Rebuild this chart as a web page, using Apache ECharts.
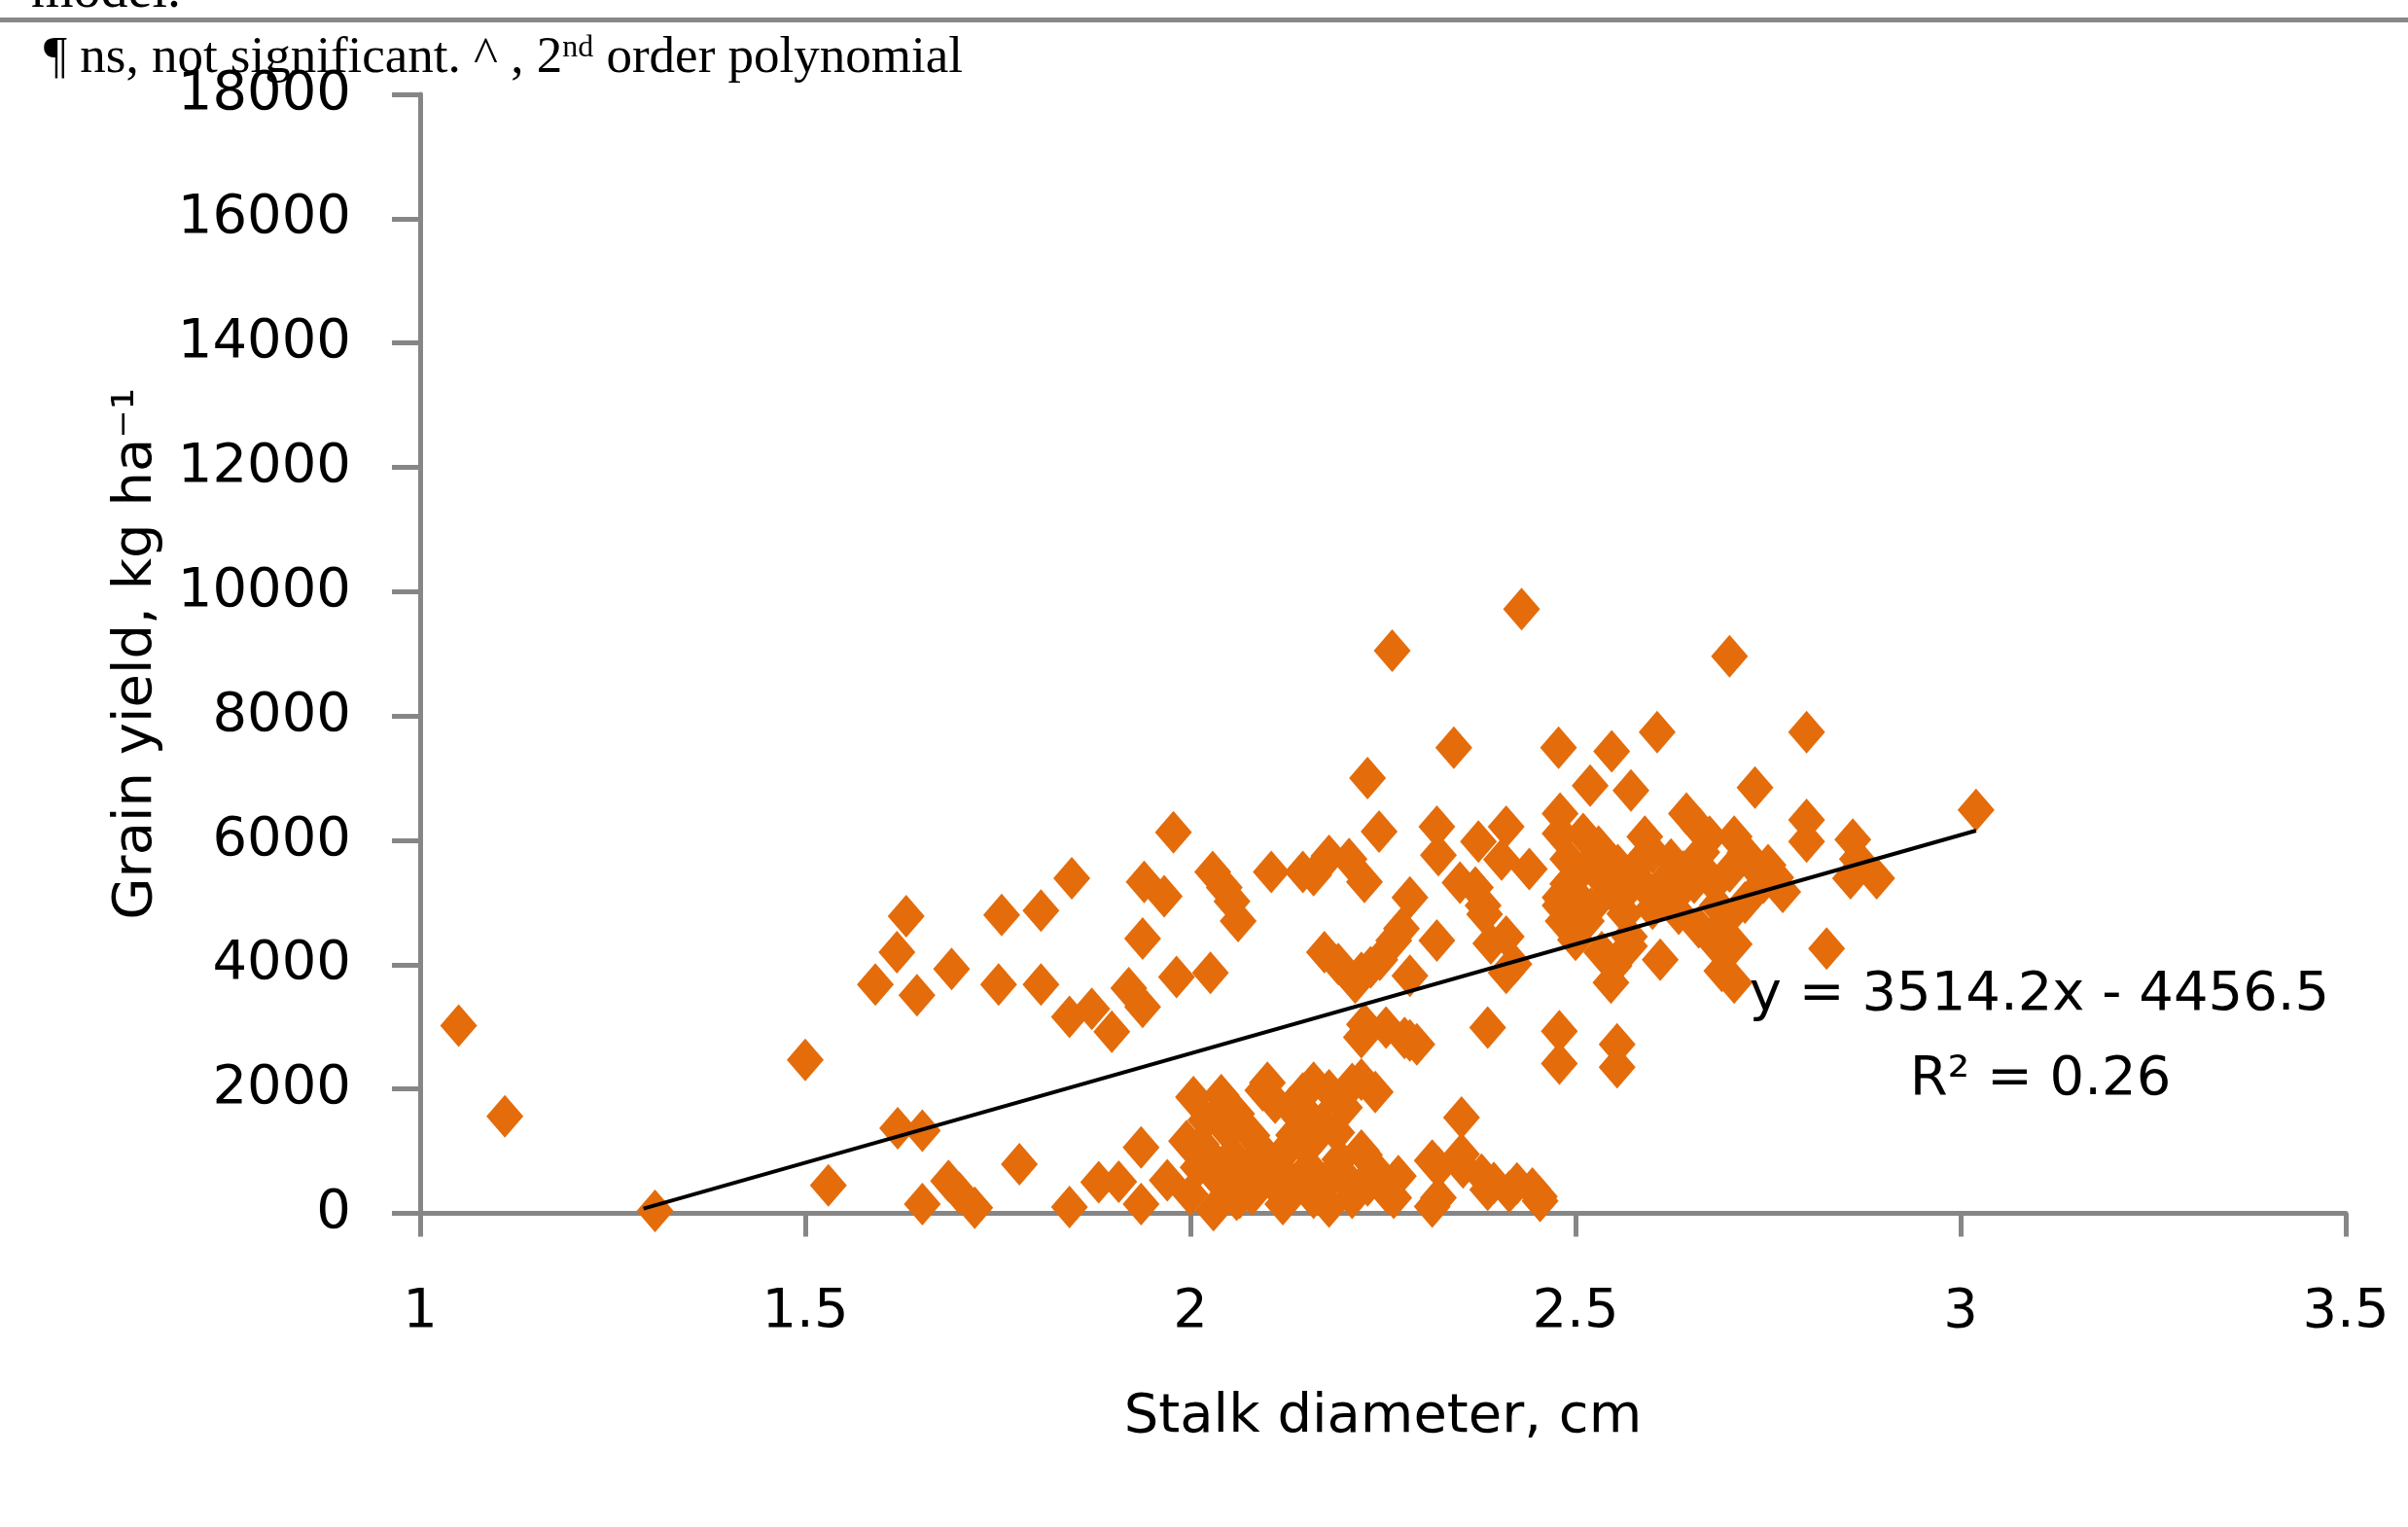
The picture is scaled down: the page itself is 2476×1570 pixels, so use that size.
<!DOCTYPE html>
<html>
<head>
<meta charset="utf-8">
<script src="https://cdn.jsdelivr.net/npm/echarts@6/dist/echarts.min.js"></script>
<style>
  html, body { margin: 0; padding: 0; background: #ffffff; }
  #chart { width: 2476px; height: 1570px; }
</style>
</head>
<body>
<div id="chart"></div>
<script>
// ---- data ----
const stalkDiameter = [
  1.05, 1.11, 1.305, 1.50, 1.53, 1.591, 1.619, 1.631, 1.645, 1.62,
  1.652, 1.652, 1.69, 1.686, 1.70, 1.72, 1.755, 1.751, 1.806, 1.806,
  1.778, 1.846, 1.843, 1.872, 1.898, 1.843, 1.881, 1.907, 1.936, 1.936,
  1.938, 1.94, 1.966, 1.92, 1.978, 1.982, 1.938, 2.026, 1.97, 1.995,
  2.004, 2.02, 2.04, 2.01, 2.03, 2.06, 2.03, 2.044, 2.014, 2.054,
  2.064, 2.084, 2.10, 2.094, 2.114, 2.13, 2.146, 2.134, 2.154, 2.164,
  2.134, 2.174, 2.18, 2.194, 2.10, 2.094, 2.11, 2.146, 2.16, 2.154,
  2.18, 2.21, 2.222, 2.222, 2.226, 2.256, 2.264, 2.21, 2.07, 2.12,
  2.20, 2.029, 2.044, 2.054, 2.062, 2.105, 2.146, 2.16, 2.18, 2.206,
  2.226, 2.23, 2.262, 2.245, 2.174, 2.192, 2.222, 2.234, 2.264, 2.285,
  2.285, 2.226, 2.254, 2.278, 2.294, 2.222, 2.285, 2.246, 2.274, 2.214,
  2.32, 2.322, 2.342, 2.32, 2.352, 2.322, 2.314, 2.322, 2.314, 2.352,
  2.354, 2.374, 2.37, 2.38, 2.382, 2.386, 2.39, 2.41, 2.43, 2.41,
  2.42, 2.41, 2.394, 2.386, 2.414, 2.424, 2.444, 2.453, 2.44, 2.404,
  2.35, 2.378, 2.454, 2.478, 2.48, 2.48, 2.48, 2.48, 2.479, 2.479,
  2.484, 2.519, 2.547, 2.524, 2.546, 2.546, 2.554, 2.554, 2.504, 2.514,
  2.564, 2.574, 2.534, 2.572, 2.606, 2.59, 2.61, 2.57, 2.594, 2.624,
  2.55, 2.50, 2.53, 2.555, 2.49, 2.60, 2.644, 2.654, 2.674, 2.684,
  2.70, 2.706, 2.706, 2.706, 2.685, 2.69, 2.733, 2.724, 2.744, 2.769,
  2.80, 2.80, 2.80, 2.826, 2.86, 2.857, 2.891, 2.866, 3.02, 2.694,
  2.664, 2.634, 2.64, 2.72, 2.75, 2.66,
  2.00, 2.02, 2.05, 2.08, 2.12, 2.15, 2.17, 2.19, 2.24, 2.08,
  2.16, 2.04, 2.20, 2.24, 2.13, 2.06, 2.11, 2.19, 2.23, 2.27,
  2.49, 2.51, 2.54, 2.56, 2.58, 2.62, 2.63, 2.66, 2.68, 2.70,
  2.72, 2.74, 2.76, 2.52, 2.60, 2.66, 2.57, 2.50
];
const grainYield = [
  3020, 1560, 40, 2470, 450, 3680, 4200, 4780, 3510, 1370,
  1330, 150, 3930, 520, 330, 90, 4800, 3680, 4870, 3680,
  790, 5390, 3160, 3290, 2920, 100, 500, 510, 150, 1060,
  4420, 5330, 5100, 3620, 6130, 3800, 3320, 3870, 530, 1160,
  1870, 1500, 1650, 740, 630, 220, 50, 490, 1110, 940,
  250, 490, 900, 990, 740, 1110, 530, 370, 740, 1240,
  1260, 490, 110, 870, 2100, 1980, 1780, 1930, 2100, 1560,
  1980, 2080, 2150, 1010, 940, 330, 250, 250, 690, 150,
  600, 5490, 5240, 5020, 4700, 5490, 5490, 5440, 5750, 5700,
  5330, 7000, 9050, 6140, 4200, 4010, 3870, 3960, 4390, 3820,
  5080, 3040, 2990, 2820, 2720, 2830, 2780, 4080, 4580, 3710,
  6220, 5760, 7490, 4390, 1540, 740, 850, 250, 110, 950,
  740, 5980, 5240, 4950, 4810, 2990, 4340, 6220, 9720, 3870,
  4010, 4450, 490, 380, 350, 480, 400, 270, 5540, 5690,
  5320, 620, 200, 7490, 6430, 6110, 5080, 4950, 2930, 2410,
  4700, 6880, 7430, 5690, 5190, 3710, 2720, 2350, 5070, 4700,
  4820, 5440, 4200, 6800, 7740, 6060, 4080, 4450, 5190, 5690,
  3980, 5400, 5900, 5600, 5300, 5800, 6430, 5320, 6060, 4950,
  8960, 6060, 4330, 3710, 4290, 3900, 6850, 5690, 5320, 5170,
  7740, 6330, 5980, 4260, 6010, 5390, 5390, 5700, 6490, 4700,
  5810, 4820, 5500, 5000, 5600, 6200,
  300, 1000, 1300, 1250, 950, 1050, 1450, 650, 700, 300,
  250, 1900, 1700, 1950, 1700, 1600, 450, 1300, 450, 600,
  5700, 6100, 5300, 5100, 5600, 5400, 5100, 5600, 5300, 5500,
  5800, 5500, 5400, 4900, 4900, 4600, 4300, 4400
];
// linear trendline reported on the chart
const trendSlope = 3514.2;
const trendIntercept = -4456.5;
const trendRange = [1.29, 3.02];
const equationText = 'y = 3514.2x - 4456.5';
const r2Text = 'R\u00b2 = 0.26';
const xTitle = 'Stalk diameter, cm';
const yTitle = 'Grain yield, kg ha\u207b\u00b9';

// ---- build ----
const points = stalkDiameter.map((x, i) => [x, grainYield[i]]);
const trendPoints = trendRange.map(x => [x, trendSlope * x + trendIntercept]);

const FONT = 'DejaVu Sans';
const AXIS_GRAY = '#868686';

const chart = echarts.init(document.getElementById('chart'), null, { renderer: 'canvas' });
chart.setOption({
  animation: false,
  backgroundColor: '#ffffff',
  grid: { left: 432, right: 64, top: 97, bottom: 322.5, containLabel: false },
  xAxis: {
    type: 'value', min: 1, max: 3.5, interval: 0.5,
    name: xTitle, nameLocation: 'middle', nameGap: 182,
    nameTextStyle: { fontFamily: FONT, fontSize: 56, color: '#000' },
    axisLine: { show: true, onZero: false, lineStyle: { color: AXIS_GRAY, width: 5 } },
    axisTick: { show: true, inside: false, length: 24, lineStyle: { color: AXIS_GRAY, width: 5 } },
    axisLabel: { margin: 74, fontFamily: FONT, fontSize: 56, color: '#000', formatter: v => String(v) },
    splitLine: { show: false }
  },
  yAxis: {
    type: 'value', min: 0, max: 18000, interval: 2000,
    name: yTitle, nameLocation: 'middle', nameRotate: 90, nameGap: 264,
    nameTextStyle: { fontFamily: FONT, fontSize: 56, color: '#000' },
    axisLine: { show: true, lineStyle: { color: AXIS_GRAY, width: 5 } },
    axisTick: { show: true, inside: false, length: 29, lineStyle: { color: AXIS_GRAY, width: 5 } },
    axisLabel: { margin: 71, fontFamily: FONT, fontSize: 56, color: '#000', formatter: v => String(v) },
    splitLine: { show: false }
  },
  series: [
    {
      type: 'scatter',
      data: points,
      symbol: 'diamond',
      symbolSize: [38, 44],
      itemStyle: { color: '#E46C0A', opacity: 1 },
      z: 2
    },
    {
      type: 'line',
      data: trendPoints,
      symbol: 'none',
      lineStyle: { color: '#000000', width: 4 },
      z: 3
    }
  ],
  graphic: [
    { type: 'rect', shape: { x: 0, y: 18, width: 2476, height: 5 }, style: { fill: '#888888' } },
    { type: 'text', x: 32, y: -8, style: { text: 'model.', fontFamily: 'Liberation Serif', fontSize: 56, fill: '#000', align: 'left', verticalAlign: 'middle' } },
    { type: 'text', x: 45, y: 60, style: {
        text: '\u00b6 ns, not significant. ^ , 2{sup|nd} order polynomial',
        fontFamily: 'Liberation Serif', fontSize: 53, fill: '#000', align: 'left', verticalAlign: 'middle',
        rich: { sup: { fontFamily: 'Liberation Serif', fontSize: 32, fill: '#000', verticalAlign: 'top', padding: [0, 0, 20, 0] } }
    } },
    { type: 'text', x: 2097, y: 1023, z: 10, style: { text: equationText, fontFamily: FONT, fontSize: 56, fill: '#000', align: 'center', verticalAlign: 'middle' } },
    { type: 'text', x: 2098, y: 1110, z: 10, style: { text: r2Text, fontFamily: FONT, fontSize: 56, fill: '#000', align: 'center', verticalAlign: 'middle' } }
  ]
});
</script>
</body>
</html>
